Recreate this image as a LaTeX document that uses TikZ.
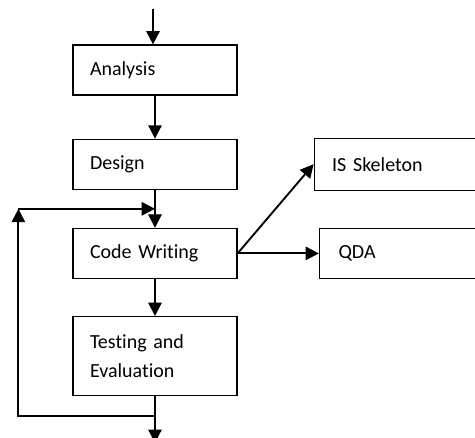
\documentclass[tikz,border=0pt]{standalone}
\usepackage{fontspec}
\setmainfont[Ligatures={NoCommon,NoDiscretionary,NoContextual}]{Carlito}
\usepackage{tikz}
\usetikzlibrary{arrows.meta, positioning, calc}

\begin{document}
\begin{tikzpicture}[
        box/.style={draw, line width=0.9pt, minimum width=123pt, minimum height=37.5pt, text width=97.5pt, inner xsep=12.75pt, align=left, font=\fontsize{15pt}{21.75pt}\selectfont},
        sidebox/.style={box, minimum width=121pt, minimum height=39pt, text width=94pt, inner xsep=13.5pt},
        arr/.style={-{Triangle[length=10pt, width=10pt]}, line width=1.4pt}
    ]
        \useasboundingbox (0,0) rectangle (356.25pt,-327.75pt);
        \node[box] (analysis) at (116.25pt,-52.5pt) {Analysis};
        \node[box, below=32.25pt of analysis] (design) {Design};
        \node[box, below=28.5pt of design] (code) {Code Writing};
        \node[box, below=27.75pt of code, minimum height=59.25pt] (test) {Testing and\\Evaluation};
        \node[sidebox, right=57pt of design] (skeleton) {IS Skeleton};
        \node[box, right=61pt of code, inner xsep=14.25pt, text width=94.5pt] (qda) {QDA};
        \coordinate (start) at ($(analysis.north)+(-1.5pt,26.25pt)$);
        \coordinate (join) at ($(design.south)!0.5!(code.north)$);
        \coordinate (back) at ($(test.south)+(0,-15pt)$);
        \coordinate (left) at ($(code.west)+(-40.5pt,0)$);
        \coordinate (end) at ($(test.south)+(0,-35pt)$);
        \draw[arr] (start) -- (start |- analysis.north);
        \draw[arr] (analysis) -- (design);
        \draw[arr] (design) -- (code);
        \draw[arr] (code) -- (test);
        \draw[arr] (code.east) -- (skeleton.west);
        \draw[arr] (code.east) -- (qda.west);
        \draw[arr] (test) -- (end);
        \draw[arr] (back) -| (left |- join);
        \draw[arr] (left |- join) -- (join);
    \end{tikzpicture}
\end{document}
